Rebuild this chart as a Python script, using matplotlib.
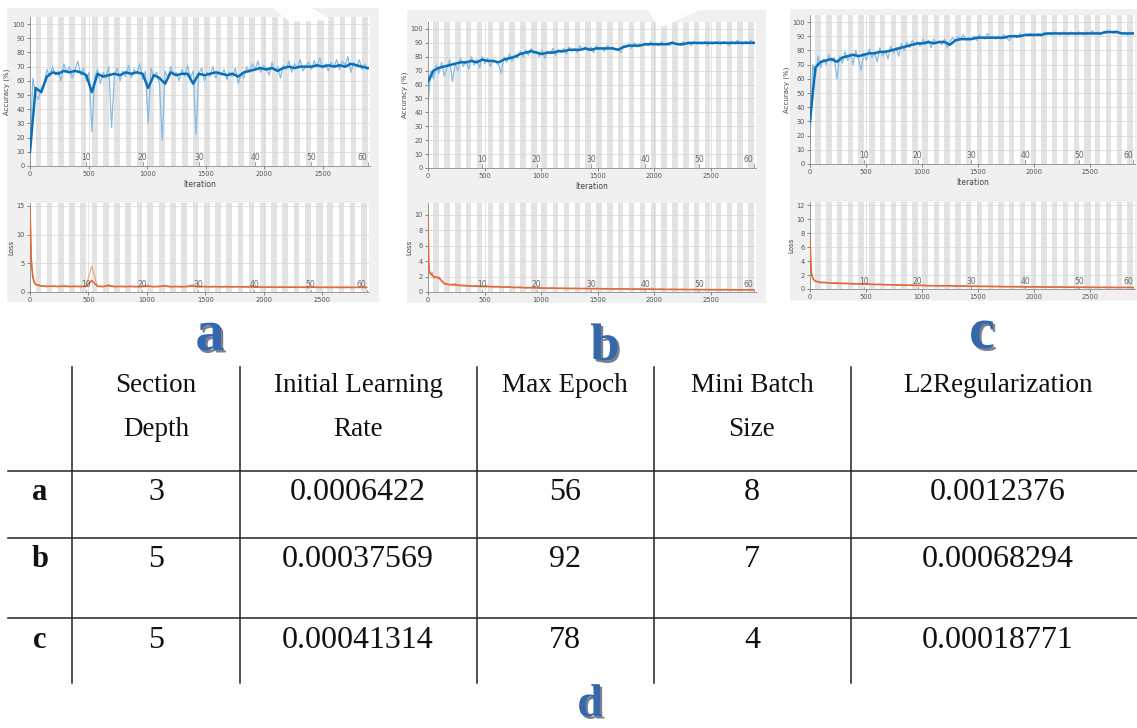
import numpy as np
import matplotlib
matplotlib.use("Agg")
import matplotlib.pyplot as plt
import matplotlib.patheffects as pe
import matplotlib.transforms as mtrans
from matplotlib.patches import Rectangle, Polygon

# ---------------- data ----------------
iters_per_epoch = 48
n_epochs = 60
epoch_marks = [10, 20, 30, 40, 50, 60]

iters_raw = list(range(0, 2881, 24))        # raw accuracy samples
iters_smooth = list(range(0, 2881, 48))     # smoothed accuracy samples
loss_iters = [0, 6, 12, 24, 36] + list(range(48, 2881, 48))

acc_raw_a = [8, 62, 50, 47, 55, 58, 68, 63, 70, 64,
             67, 60, 72, 66, 70, 62, 68, 74, 64, 69,
             60, 66, 24, 63, 68, 58, 66, 62, 70, 27,
             64, 69, 60, 67, 63, 71, 62, 68, 65, 72,
             61, 67, 30, 69, 63, 66, 58, 18, 67, 62,
             70, 64, 66, 60, 68, 63, 71, 62, 67, 22,
             65, 69, 60, 66, 63, 70, 62, 67, 64, 68,
             61, 66, 63, 69, 58, 65, 62, 70, 66, 72,
             68, 74, 66, 71, 69, 64, 73, 67, 70, 62,
             71, 68, 74, 66, 72, 69, 75, 67, 70, 73,
             68, 74, 70, 76, 69, 72, 67, 73, 70, 75,
             68, 74, 71, 77, 66, 73, 70, 75, 68, 72,
             68]
acc_smooth_a = [10, 55, 52, 63, 66, 65, 67, 66, 67, 66,
                64, 52, 65, 63, 64, 65, 64, 66, 65, 66,
                65, 55, 64, 62, 58, 66, 64, 65, 65, 58,
                65, 64, 65, 66, 65, 64, 65, 63, 66, 67,
                68, 69, 68, 69, 67, 69, 70, 69, 70, 70,
                70, 71, 70, 71, 70, 71, 70, 72, 71, 70,
                69]
acc_raw_b = [45, 70, 64, 74, 68, 76, 66, 72, 78, 62,
             75, 70, 79, 73, 77, 71, 80, 74, 78, 72,
             80, 75, 79, 73, 78, 76, 74, 68, 80, 76,
             82, 77, 81, 79, 84, 80, 85, 81, 86, 82,
             84, 80, 85, 79, 84, 82, 86, 81, 85, 83,
             86, 82, 87, 84, 86, 83, 88, 85, 87, 84,
             87, 83, 88, 85, 86, 84, 88, 86, 87, 85,
             86, 83, 88, 87, 89, 86, 90, 87, 89, 88,
             90, 88, 91, 89, 90, 88, 91, 89, 90, 88,
             91, 89, 90, 88, 91, 89, 90, 88, 91, 89,
             90, 89, 91, 88, 90, 89, 91, 90, 89, 91,
             90, 88, 91, 89, 92, 90, 89, 91, 90, 92,
             90]
acc_smooth_b = [62, 70, 72, 73, 74, 75, 76, 76, 77, 76,
                78, 77, 77, 76, 78, 79, 80, 82, 83, 84,
                83, 82, 83, 83, 84, 84, 85, 85, 85, 86,
                85, 86, 86, 86, 86, 85, 87, 88, 88, 88,
                89, 89, 89, 89, 89, 90, 89, 89, 90, 90,
                90, 90, 90, 90, 90, 90, 90, 90, 90, 90,
                90]
acc_raw_c = [15, 70, 62, 76, 68, 74, 70, 77, 72, 75,
             60, 76, 71, 79, 73, 78, 70, 80, 74, 66,
             78, 73, 81, 75, 79, 72, 82, 76, 80, 74,
             83, 78, 82, 76, 85, 80, 86, 82, 87, 84,
             86, 83, 88, 84, 87, 82, 88, 85, 86, 84,
             88, 82, 86, 89, 87, 90, 88, 91, 87, 89,
             88, 90, 87, 91, 89, 88, 92, 89, 90, 88,
             90, 88, 91, 89, 87, 90, 91, 89, 92, 90,
             91, 90, 92, 90, 91, 92, 90, 93, 91, 92,
             91, 93, 92, 91, 93, 92, 91, 93, 92, 91,
             93, 92, 91, 93, 92, 94, 92, 93, 91, 93,
             92, 94, 93, 92, 94, 93, 92, 93, 91, 93,
             92]
acc_smooth_c = [30, 68, 72, 73, 74, 72, 75, 76, 77, 76,
                77, 78, 78, 79, 79, 80, 81, 82, 83, 84,
                85, 85, 86, 85, 86, 86, 84, 87, 88, 88,
                88, 89, 89, 89, 89, 89, 89, 90, 90, 90,
                91, 91, 91, 91, 92, 92, 92, 92, 92, 92,
                92, 92, 92, 92, 92, 93, 93, 93, 92, 92,
                92]

loss_raw_a = [15.0, 11.0, 6.0, 3.0, 1.8,
              1.4, 1.1, 0.9, 1.1, 0.9, 1.2, 0.9, 1.0, 0.9, 1.1,
              4.5, 1.0, 0.9, 1.3, 0.9, 1.0, 0.9, 1.0, 0.9, 1.0,
              1.2, 0.9, 1.0, 1.2, 0.9, 1.0, 0.9, 1.0, 1.3, 0.9,
              1.0, 0.9, 1.0, 0.9, 1.0, 0.9, 1.0, 0.9, 1.0, 0.8,
              0.9, 0.8, 0.9, 0.8, 0.9, 0.8, 0.9, 0.8, 0.9, 0.8,
              0.9, 0.8, 0.9, 0.8, 0.8, 0.9, 0.8, 0.8, 0.9, 0.8]
loss_smooth_a = [14.5, 9.0, 5.0, 2.6, 1.7,
                 1.3, 1.05, 1.0, 1.0, 0.98, 1.0, 0.97, 0.98, 0.96, 0.98,
                 2.0, 1.0, 0.96, 1.1, 0.95, 0.96, 0.95, 0.96, 0.94, 0.95,
                 1.0, 0.94, 0.95, 1.05, 0.93, 0.94, 0.93, 0.94, 1.05, 0.92,
                 0.93, 0.92, 0.92, 0.91, 0.91, 0.9, 0.9, 0.89, 0.89, 0.86,
                 0.86, 0.85, 0.85, 0.84, 0.84, 0.83, 0.83, 0.83, 0.82, 0.82,
                 0.82, 0.81, 0.81, 0.81, 0.8, 0.8, 0.8, 0.8, 0.8, 0.8]
loss_raw_b = [10.5, 3.5, 2.8, 2.2, 2.6,
              1.8, 2.0, 1.0, 0.9, 1.1, 0.8, 0.9, 0.7, 0.85, 0.7,
              0.8, 0.65, 0.75, 0.6, 0.7, 0.55, 0.65, 0.5, 0.6, 0.5,
              0.55, 0.45, 0.55, 0.45, 0.5, 0.42, 0.5, 0.42, 0.48, 0.4,
              0.48, 0.4, 0.45, 0.38, 0.45, 0.38, 0.42, 0.35, 0.42, 0.35,
              0.4, 0.33, 0.38, 0.32, 0.36, 0.3, 0.35, 0.3, 0.34, 0.3,
              0.33, 0.28, 0.32, 0.28, 0.35, 0.27, 0.3, 0.26, 0.3, 0.27]
loss_smooth_b = [10.0, 4.0, 2.6, 2.3, 2.2,
                 2.0, 1.8, 1.1, 0.95, 0.9, 0.85, 0.8, 0.78, 0.75, 0.72,
                 0.7, 0.68, 0.66, 0.64, 0.62, 0.6, 0.58, 0.56, 0.55, 0.53,
                 0.5, 0.5, 0.49, 0.48, 0.47, 0.46, 0.45, 0.45, 0.44, 0.43,
                 0.43, 0.42, 0.41, 0.4, 0.4, 0.39, 0.38, 0.38, 0.37, 0.36,
                 0.36, 0.35, 0.35, 0.34, 0.33, 0.33, 0.32, 0.32, 0.31, 0.31,
                 0.3, 0.3, 0.3, 0.29, 0.29, 0.29, 0.28, 0.28, 0.28, 0.28]
loss_raw_c = [8.0, 4.5, 2.5, 1.6, 1.3,
              1.2, 0.9, 1.0, 0.8, 0.95, 0.8, 0.85, 0.7, 0.8, 0.7,
              0.75, 0.6, 0.7, 0.6, 0.65, 0.55, 0.6, 0.5, 0.58, 0.5,
              0.55, 0.45, 0.5, 0.42, 0.5, 0.55, 0.42, 0.4, 0.45, 0.38,
              0.42, 0.35, 0.4, 0.33, 0.38, 0.32, 0.36, 0.3, 0.34, 0.3,
              0.32, 0.28, 0.3, 0.26, 0.3, 0.25, 0.28, 0.24, 0.27, 0.23,
              0.26, 0.22, 0.25, 0.22, 0.24, 0.21, 0.23, 0.2, 0.23, 0.21]
loss_smooth_c = [7.5, 4.0, 2.4, 1.6, 1.3,
                 1.1, 0.95, 0.9, 0.85, 0.82, 0.8, 0.78, 0.75, 0.73, 0.7,
                 0.68, 0.66, 0.64, 0.62, 0.6, 0.58, 0.56, 0.55, 0.53, 0.52,
                 0.5, 0.48, 0.47, 0.46, 0.46, 0.45, 0.44, 0.42, 0.41, 0.4,
                 0.39, 0.38, 0.37, 0.36, 0.35, 0.34, 0.33, 0.33, 0.32, 0.31,
                 0.3, 0.3, 0.29, 0.28, 0.28, 0.27, 0.27, 0.26, 0.26, 0.25,
                 0.25, 0.24, 0.24, 0.23, 0.23, 0.23, 0.22, 0.22, 0.22, 0.22]

acc_yticks = [0, 10, 20, 30, 40, 50, 60, 70, 80, 90, 100]
iter_ticks = [0, 500, 1000, 1500, 2000, 2500]
loss_yticks_a = [0, 5, 10, 15]
loss_yticks_b = [0, 2, 4, 6, 8, 10]
loss_yticks_c = [0, 2, 4, 6, 8, 10, 12]

col_headers = [["Section", "Depth"], ["Initial Learning", "Rate"],
               ["Max Epoch"], ["Mini Batch", "Size"], ["L2Regularization"]]
row_labels = ["a", "b", "c"]
section_depth = ["3", "5", "5"]
learning_rate = ["0.0006422", "0.00037569", "0.00041314"]
max_epoch = ["56", "92", "78"]
mini_batch = ["8", "7", "4"]
l2_reg = ["0.0012376", "0.00068294", "0.00018771"]
panel_letters = ["a", "b", "c", "d"]

# ---------------- figure ----------------
W, H = 1137, 728
fig = plt.figure(figsize=(W / 100, H / 100), dpi=100)
fig.patch.set_facecolor("white")


def fbox(x0, y0, x1, y1):
    return [x0 / W, 1 - y1 / H, (x1 - x0) / W, (y1 - y0) / H]


bg = fig.add_axes([0, 0, 1, 1], zorder=0)
bg.set_xlim(0, W)
bg.set_ylim(H, 0)
bg.axis("off")

GRAY_PANEL = "#f0f0f0"
for (x0, y0, x1, y1) in [(7, 8, 379, 302), (407, 10, 766, 303), (790, 9, 1137, 301)]:
    bg.add_patch(Rectangle((x0, y0), x1 - x0, y1 - y0, facecolor=GRAY_PANEL, edgecolor="none"))

TICK_COL = "#555555"


def style_axes(ax, ylim, yticks, ylabel, xlabel=None):
    ax.set_facecolor("white")
    for e in range(n_epochs):
        if e % 2 == 1:
            ax.axvspan(e * iters_per_epoch, (e + 1) * iters_per_epoch,
                       color="#e3e3e3", lw=0, zorder=0)
    ax.set_axisbelow(True)
    ax.grid(True, color="#d6d6d6", lw=0.5)
    ax.set_xlim(0, 2900)
    ax.set_ylim(*ylim)
    ax.set_yticks(yticks)
    ax.set_xticks(iter_ticks)
    ax.tick_params(labelsize=4.8, length=2, width=0.5, colors=TICK_COL, pad=1.5)
    for s in ax.spines.values():
        s.set_color("#8a8a8a")
        s.set_linewidth(0.6)
    ax.spines["top"].set_visible(False)
    ax.spines["right"].set_visible(False)
    ax.set_ylabel(ylabel, fontsize=5, color="#444444", labelpad=2)
    if xlabel:
        ax.set_xlabel(xlabel, fontsize=5.5, color="#444444", labelpad=2)
    tr = mtrans.blended_transform_factory(ax.transData, ax.transAxes)
    for ep in epoch_marks:
        x = ep * iters_per_epoch
        ax.plot([x, x], [0, 0.025], transform=tr, color="#777777", lw=0.5, zorder=4)
        ha = "right" if ep == epoch_marks[-1] else "center"
        ax.text(x, 0.03, str(ep), transform=tr, ha=ha, va="bottom",
                fontsize=5.5, color="#666666", zorder=4)


panels = [
    dict(acc=(30, 17, 370, 166), loss=(30, 203, 369, 292),
         araw=acc_raw_a, asm=acc_smooth_a, lraw=loss_raw_a, lsm=loss_smooth_a,
         lylim=(0, 15.5), lyt=loss_yticks_a),
    dict(acc=(428, 22, 756, 168), loss=(428, 203, 756, 292),
         araw=acc_raw_b, asm=acc_smooth_b, lraw=loss_raw_b, lsm=loss_smooth_b,
         lylim=(0, 11.5), lyt=loss_yticks_b),
    dict(acc=(810, 15, 1135, 164), loss=(810, 202, 1135, 289),
         araw=acc_raw_c, asm=acc_smooth_c, lraw=loss_raw_c, lsm=loss_smooth_c,
         lylim=(0, 12.5), lyt=loss_yticks_c),
]

for p in panels:
    ax = fig.add_axes(fbox(*p["acc"]), zorder=1)
    style_axes(ax, (0, 105), acc_yticks, "Accuracy (%)", "Iteration")
    ax.plot(iters_raw, p["araw"], color="#86bce6", lw=0.9, zorder=2)
    ax.plot(iters_smooth, p["asm"], color="#0b6fb8", lw=1.8, zorder=3)

    axl = fig.add_axes(fbox(*p["loss"]), zorder=1)
    style_axes(axl, p["lylim"], p["lyt"], "Loss")
    axl.plot(loss_iters, p["lraw"], color="#f2a27e", lw=0.8, zorder=2)
    axl.plot(loss_iters, p["lsm"], color="#e06a3a", lw=1.2, zorder=3)

# ---------------- overlay: letters, table, watermark ----------------
top = fig.add_axes([0, 0, 1, 1], zorder=5)
top.set_xlim(0, W)
top.set_ylim(H, 0)
top.axis("off")
top.patch.set_alpha(0)

# faint watermark wedges
top.add_patch(Polygon([(262, 0), (300, 0), (330, 20), (290, 22)], closed=True,
                      facecolor="white", edgecolor="none", alpha=0.9))
top.add_patch(Polygon([(640, 0), (695, 0), (700, 10), (660, 28)], closed=True,
                      facecolor="white", edgecolor="none", alpha=0.9))

LETTER_COL = "#3567ad"
letter_fx = [pe.SimplePatchShadow(offset=(1.6, -1.8), shadow_rgbFace="#0d1a2e", alpha=0.55),
             pe.Normal()]
for txt, x, y, fs in zip(panel_letters, [210, 605, 982, 590], [350, 360, 348, 716],
                         [42, 38, 42, 33]):
    top.text(x, y, txt, ha="center", va="baseline", fontsize=fs, color=LETTER_COL,
             family="Liberation Serif", fontweight="bold", path_effects=letter_fx)

# table lines
LINE = "#222222"
col_x = [72, 240, 477, 654, 851]
row_y = [471, 538, 618]
for x in col_x:
    top.plot([x, x], [367, 683], color=LINE, lw=1.1)
for y in row_y:
    top.plot([8, 1137], [y, y], color=LINE, lw=1.1)

SERIF = "Liberation Serif"
col_centers = [156, 358, 565, 752, 998]
header_baselines = [392, 436]
for cx, lines in zip(col_centers, col_headers):
    for yb, line in zip(header_baselines, lines):
        top.text(cx, yb, line, ha="center", va="baseline", fontsize=19.5,
                 family=SERIF, color="#111111")

row_baselines = [500, 567, 648]
columns = [section_depth, learning_rate, max_epoch, mini_batch, l2_reg]
for i, (lab, yb) in enumerate(zip(row_labels, row_baselines)):
    top.text(40, yb, lab, ha="center", va="baseline", fontsize=22, fontweight="bold",
             family=SERIF, color="#111111")
    for cx, col in zip(col_centers, columns):
        top.text(cx, yb, col[i], ha="center", va="baseline", fontsize=23,
                 family=SERIF, color="#111111")

fig.savefig("out.png", dpi=100)
